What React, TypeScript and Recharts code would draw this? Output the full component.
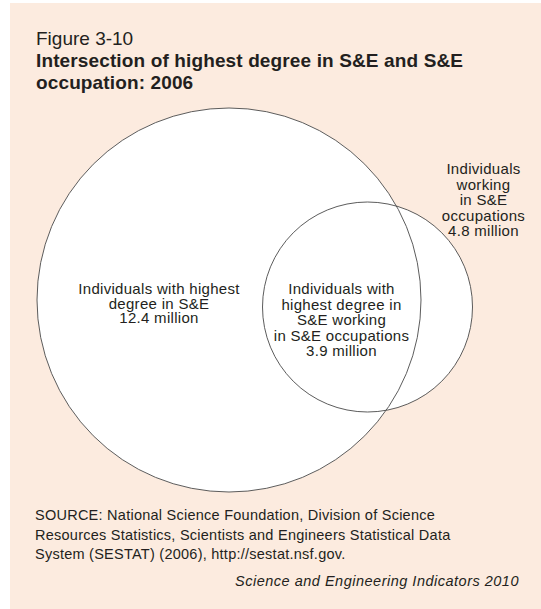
import { ScatterChart, Scatter, XAxis, YAxis } from 'recharts';

// Venn diagram, in chart units (1 unit = 10 px)
const circleNames = ['Highest degree in S&E', 'Working in S&E occupations'];
const circleX = [20.9, 34.75];
const circleY = [21.0, 20.3];
const circleR = [19.2, 10.5];

// values, millions of individuals
const valueDegree = 12.4;
const valueOccupation = 4.8;
const valueBoth = 3.9;

const labelTexts = [
  ['Individuals with highest', 'degree in S&E', `${valueDegree} million`],
  [
    'Individuals with',
    'highest degree in',
    'S&E working',
    'in S&E occupations',
    `${valueBoth} million`,
  ],
  ['Individuals', 'working', 'in S&E', 'occupations', `${valueOccupation} million`],
];
const labelX = [13.9, 32.15, 46.35];
const labelY = [20.7, 19.05, 31.05];

const sourceLines = [
  'SOURCE: National Science Foundation, Division of Science',
  'Resources Statistics, Scientists and Engineers Statistical Data',
  'System (SESTAT) (2006), http://sestat.nsf.gov.',
];

const CHART_LEFT = 20;
const CHART_TOP = 100;
const CHART_W = 520;
const CHART_H = 410;
const X_MAX = 52;
const Y_MAX = 41;
const PX_PER_UNIT = CHART_W / X_MAX;

const FONT = '"Liberation Sans", Arial, Helvetica, sans-serif';
const TEXT = '#231f20';
const PEACH = '#fcebdf';

const circleData = circleNames.map((name, i) => ({
  name,
  x: circleX[i],
  y: circleY[i],
  r: circleR[i],
}));

const labelData = labelTexts.map((lines, i) => ({
  lines,
  x: labelX[i],
  y: labelY[i],
  lineH: i === 0 ? 14.5 : 15.5,
}));

function CircleFill(props: any) {
  const { cx, cy, payload } = props;
  return <circle cx={cx} cy={cy} r={payload.r * PX_PER_UNIT} fill="#ffffff" stroke="none" />;
}

function CircleOutline(props: any) {
  const { cx, cy, payload } = props;
  return (
    <circle
      cx={cx}
      cy={cy}
      r={payload.r * PX_PER_UNIT}
      fill="none"
      stroke="#4a4a4a"
      strokeWidth={0.9}
    />
  );
}

function VennLabel(props: any) {
  const { cx, cy, payload } = props;
  const n = payload.lines.length;
  return (
    <text
      textAnchor="middle"
      fontFamily={FONT}
      fontSize={15}
      letterSpacing={0.3}
      fill={TEXT}
    >
      {payload.lines.map((line: string, i: number) => (
        <tspan key={i} x={cx} y={cy + (i - (n - 1) / 2) * payload.lineH + 5.5}>
          {line}
        </tspan>
      ))}
    </text>
  );
}

export default function App() {
  return (
    <div
      style={{
        position: 'absolute',
        left: 0,
        top: 0,
        width: 541,
        height: 609,
        background: '#ffffff',
        overflow: 'hidden',
        fontFamily: FONT,
        color: TEXT,
      }}
    >
      <div
        style={{
          position: 'absolute',
          left: 10,
          top: 3,
          width: 531,
          height: 606,
          background: PEACH,
        }}
      />

      <div style={{ position: 'absolute', left: 36, top: 28, fontSize: 19, lineHeight: '22px' }}>
        Figure 3-10
      </div>
      <div
        style={{
          position: 'absolute',
          left: 36,
          top: 50,
          fontSize: 19,
          lineHeight: '22px',
          fontWeight: 'bold',
          letterSpacing: 0.13,
          whiteSpace: 'nowrap',
        }}
      >
        Intersection of highest degree in S&amp;E and S&amp;E
        <br />
        occupation: 2006
      </div>

      <div style={{ position: 'absolute', left: CHART_LEFT, top: CHART_TOP }}>
        <ScatterChart width={CHART_W} height={CHART_H} margin={{ top: 0, right: 0, bottom: 0, left: 0 }}>
          <XAxis type="number" dataKey="x" domain={[0, X_MAX]} hide />
          <YAxis type="number" dataKey="y" domain={[0, Y_MAX]} hide />
          <Scatter data={circleData} shape={CircleFill} isAnimationActive={false} />
          <Scatter data={circleData} shape={CircleOutline} isAnimationActive={false} />
          <Scatter data={labelData} shape={VennLabel} isAnimationActive={false} />
        </ScatterChart>
      </div>

      <div
        style={{
          position: 'absolute',
          left: 35,
          top: 506,
          fontSize: 14.5,
          lineHeight: '19.5px',
          letterSpacing: 0.25,
          whiteSpace: 'nowrap',
        }}
      >
        {sourceLines.map((line) => (
          <div key={line}>{line}</div>
        ))}
      </div>
      <div
        style={{
          position: 'absolute',
          right: 22,
          top: 572,
          fontSize: 14.5,
          lineHeight: '19.5px',
          letterSpacing: 0.5,
          fontStyle: 'italic',
          whiteSpace: 'nowrap',
        }}
      >
        Science and Engineering Indicators 2010
      </div>
    </div>
  );
}
